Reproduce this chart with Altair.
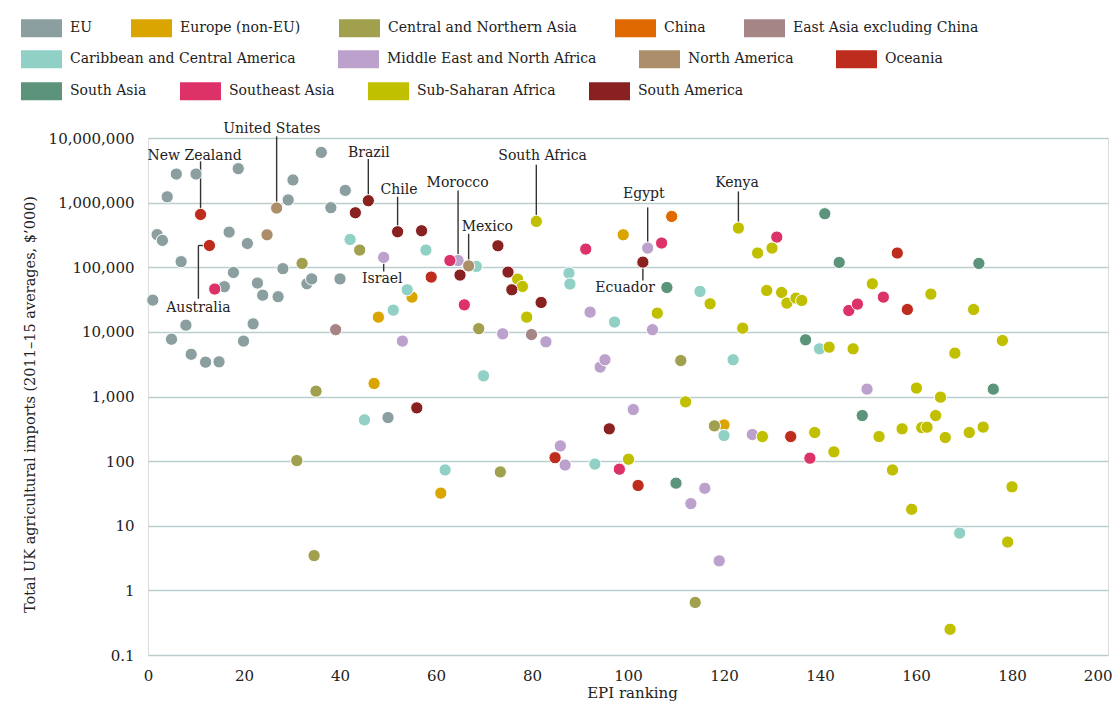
import altair as alt
import pandas as pd

# ---------------- data ----------------
regions = ["EU", "Europe (non-EU)", "Central and Northern Asia", "China",
           "East Asia excluding China", "Caribbean and Central America",
           "Middle East and North Africa", "North America", "Oceania",
           "South Asia", "Southeast Asia", "Sub-Saharan Africa", "South America"]
colors = ["#8c9fa0", "#daa500", "#a1a04f", "#e06a00", "#a68586", "#91d0c5",
          "#bba1cc", "#ad8e6b", "#bd2c1c", "#5b947a", "#dd3267", "#c0bf00", "#8a2121"]
legend_rows = [regions[0:5], regions[5:9], regions[9:13]]

eu_rank = [1.0, 1.9, 3.0, 4.0, 4.9, 5.9, 6.9, 7.9, 9.0, 10.0, 12.0, 14.8, 15.9, 16.9, 17.8,
           18.8, 19.9, 20.7, 21.9, 22.8, 23.9, 27.1, 28.1, 29.2, 30.2, 33.1, 34.1, 36.1,
           38.1, 40.0, 41.1, 50.0]
eu_value = [31000, 320000, 260000, 1230000, 7700, 2770000, 122000, 12700, 4500, 2770000,
            3400, 3440, 50000, 350000, 83000, 3350000, 7200, 233000, 13300, 57000, 37000,
            35000, 95000, 1100000, 2240000, 55500, 66000, 5980000, 834000, 66000, 1545000, 472]

eur_rank = [47.1, 48.0, 55.0, 61.0, 99.0, 120.0]
eur_value = [1590, 16900, 34500, 32, 318000, 364]

cna_rank = [31.0, 32.1, 34.6, 35.0, 44.1, 68.9, 73.4, 111.0, 114.0, 118.0]
cna_value = [102, 114500, 3.45, 1210, 184500, 11200, 68, 3600, 0.65, 351]

china_rank = [109.1]
china_value = [611000]

eas_rank = [39.1, 79.9]
eas_value = [10800, 9100]

car_rank = [42.1, 45.1, 51.1, 54.0, 57.9, 61.9, 68.4, 69.9, 87.7, 87.9, 93.1, 97.2, 115.0,
            120.0, 121.9, 139.9, 169.1]
car_value = [269000, 435, 21700, 44800, 184500, 73, 103000, 2090, 81300, 55000, 90, 14200,
             42200, 249, 3700, 5470, 7.7]

mena_rank = [49.1, 53.0, 64.6, 73.9, 82.9, 85.9, 86.9, 92.1, 94.2, 95.2, 101.1, 104.1, 105.1,
             113.1, 116.0, 119.0, 125.9, 149.8]
mena_value = [142000, 7200, 127000, 9330, 7020, 172, 87, 20200, 2850, 3700, 628, 198000,
              10800, 22, 38, 2.86, 258, 1300]

na_rank = [24.8, 26.8, 66.8]
na_value = [318000, 825000, 105000]

oce_rank = [10.95, 12.8, 59.0, 84.8, 102.1, 133.9, 156.1, 158.2]
oce_value = [656000, 217000, 70500, 113, 42, 240, 166000, 22200]

sas_rank = [108.1, 110.0, 137.0, 141.0, 144.0, 148.8, 173.1, 176.1]
sas_value = [48600, 45.6, 7540, 673000, 118600, 507, 114500, 1300]

sea_rank = [13.9, 62.9, 65.9, 91.2, 98.2, 107.0, 131.0, 137.9, 146.0, 147.8, 153.2]
sea_value = [46000, 127000, 26200, 191000, 75, 237000, 293000, 111, 21400, 26900, 34500]

ssa_rank = [77.0, 78.0, 78.9, 80.9, 100.1, 106.1, 112.0, 117.1, 123.0, 123.9, 127.0, 128.0,
            128.9, 130.0, 132.0, 133.1, 135.0, 136.2, 138.9, 141.9, 142.9, 146.9, 150.9,
            152.3, 155.1, 157.1, 159.1, 160.1, 161.2, 162.3, 163.1, 164.1, 165.1, 166.1,
            167.1, 168.1, 171.1, 172.0, 174.0, 178.0, 179.1, 180.0]
ssa_value = [65600, 50400, 16900, 512000, 107, 19500, 826, 27200, 404000, 11400, 166000, 240,
             43700, 198000, 40700, 27900, 33300, 30600, 277, 5800, 139, 5470, 55500, 240, 73,
             316, 18, 1350, 330, 335, 38400, 507, 977, 232, 0.25, 4690, 277, 22200, 336, 7350,
             5.6, 40]

sam_rank = [43.2, 45.9, 52.0, 56.0, 57.0, 65.0, 72.9, 75.0, 75.8, 81.9, 96.1, 103.1]
sam_value = [697000, 1070000, 354000, 667, 367000, 75700, 215000, 84200, 44800, 28500, 316,
             120000]

# annotations
ann_label = ["United States", "New Zealand", "Australia", "Brazil", "Chile", "Morocco",
             "Mexico", "Israel", "South Africa", "Egypt", "Ecuador", "Kenya"]
ann_text_rank = [25.8, 9.7, 10.5, 46.0, 52.3, 64.5, 70.7, 48.8, 82.2, 103.3, 99.4, 122.7]
ann_text_value = [1.21e7, 4.61e6, 19950, 5.08e6, 1.358e6, 1.742e6, 363000, 56900, 4.61e6,
                  1.178e6, 41300, 1.718e6]
ann_line_rank = [26.8, 10.95, 10.5, 45.9, 52.0, 64.6, 66.8, 49.1, 80.9, 104.1, 103.1, 123.0]
ann_line_from = [1.059e7, 4.345e6, 32500, 4.73e6, 1.233e6, 1.545e6, 330000, 86000, 3.86e6,
                 844000, 62400, 1.49e6]
ann_line_to = [825000, 656000, 217000, 1070000, 354000, 127000, 105000, 142000, 512000,
               198000, 120000, 404000]
elbow_from = [10.5]
elbow_to = [12.8]
elbow_value = [217000]

y_ticks = [0.1, 1, 10, 100, 1000, 10000, 100000, 1000000, 10000000]
x_ticks = list(range(0, 201, 20))

# ---------------- build tables ----------------
series = [
    ("EU", eu_rank, eu_value),
    ("Europe (non-EU)", eur_rank, eur_value),
    ("Central and Northern Asia", cna_rank, cna_value),
    ("China", china_rank, china_value),
    ("East Asia excluding China", eas_rank, eas_value),
    ("Caribbean and Central America", car_rank, car_value),
    ("Middle East and North Africa", mena_rank, mena_value),
    ("North America", na_rank, na_value),
    ("Oceania", oce_rank, oce_value),
    ("South Asia", sas_rank, sas_value),
    ("Southeast Asia", sea_rank, sea_value),
    ("Sub-Saharan Africa", ssa_rank, ssa_value),
    ("South America", sam_rank, sam_value),
]
rows = []
for name, rk, vl in series:
    for r, v in zip(rk, vl):
        rows.append({"region": name, "rank": r, "value": v})
points = pd.DataFrame(rows)

ann = pd.DataFrame({"label": ann_label, "rank": ann_text_rank, "value": ann_text_value})
lines = pd.DataFrame({"rank": ann_line_rank, "value": ann_line_from, "value2": ann_line_to})
elbow = pd.DataFrame({"rank": elbow_from, "rank2": elbow_to, "value": elbow_value})

FONT = "DejaVu Serif"
INK = "#222222"

x_axis = alt.Axis(values=x_ticks, grid=False, domain=False, ticks=False, tickSize=0,
                  labelPadding=13, labelFont=FONT, labelFontSize=15, labelColor=INK,
                  labelAlign={"condition": {"test": "datum.value == 200", "value": "right"},
                              "value": "center"},
                  labelOffset={"condition": {"test": "datum.value == 200", "value": 4},
                               "value": 0},
                  title="EPI ranking", titleFont=FONT, titleFontSize=15,
                  titleFontWeight="normal", titleColor=INK, titlePadding=2, titleX=484)
y_axis = alt.Axis(values=y_ticks, labelExpr="format(datum.value, ',')", grid=True,
                  gridColor="#bccdcd", gridWidth=1.3, domain=False, ticks=False, tickSize=0,
                  labelPadding=14, labelFont=FONT, labelFontSize=15, labelColor=INK,
                  title="Total UK agricultural imports (2011–15 averages, $’000)",
                  titleFont=FONT, titleFontSize=14.5, titleFontWeight="normal",
                  titleColor=INK, titlePadding=11, titleY=266)

xs = alt.Scale(domain=[0, 200], nice=False, zero=False)
ys = alt.Scale(type="log", domain=[0.1, 10000000], nice=False)


def X(field="rank"):
    return alt.X(f"{field}:Q", scale=xs, axis=x_axis)


def Y(field="value"):
    return alt.Y(f"{field}:Q", scale=ys, axis=y_axis)


rules_v = alt.Chart(lines).mark_rule(color="#333333", strokeWidth=1.4).encode(
    x=X(), y=Y(), y2="value2:Q")
rules_h = alt.Chart(elbow).mark_rule(color="#333333", strokeWidth=1.4).encode(
    x=X(), x2="rank2:Q", y=Y())

legend_y = [-130.5, -99.5, -67.5]
legend_gap = [38, 42, 33]
dot_layers = []
for i, row in enumerate(legend_rows):
    row_colors = [colors[regions.index(r)] for r in row]
    sub = points[points["region"].isin(row)]
    dot_layers.append(
        alt.Chart(sub).mark_circle(size=150, opacity=1, stroke="white",
                                   strokeWidth=1).encode(
            x=X(), y=Y(),
            color=alt.Color("region:N",
                            scale=alt.Scale(domain=row, range=row_colors),
                            legend=alt.Legend(title=None, orient="none", legendX=-127,
                                              legendY=legend_y[i], direction="horizontal",
                                              symbolType="M-1,-0.44H1V0.44H-1Z",
                                              symbolSize=1681, symbolStrokeWidth=0,
                                              symbolOpacity=1,
                                              labelFont=FONT, labelFontSize=14,
                                              labelColor=INK, labelOffset=8,
                                              labelLimit=0, columnPadding=legend_gap[i],
                                              padding=0)),
        )
    )

labels = alt.Chart(ann).mark_text(font=FONT, fontSize=14, color=INK,
                                  align="center", baseline="alphabetic").encode(
    x=X(), y=Y(), text="label:N")

chart = alt.layer(rules_v, rules_h, *dot_layers, labels).resolve_scale(
    color="independent"
).properties(
    width=960, height=517,
    padding={"left": 140, "top": 130, "right": 4, "bottom": 48},
    autosize=alt.AutoSizeParams(type="none"),
).configure_view(stroke=None).configure(background="white")

chart.save("out.html", embed_options={"renderer": "svg", "actions": False})
